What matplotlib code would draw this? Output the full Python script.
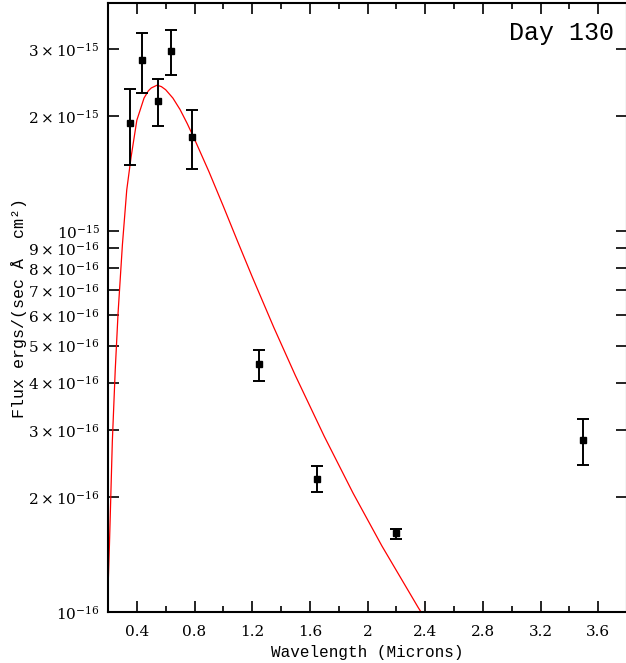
import matplotlib
matplotlib.use("Agg")
import matplotlib.pyplot as plt
from matplotlib.ticker import MultipleLocator, NullLocator
import numpy as np

# photometry (U B V R I J H K L), flux in ergs/(s A cm^2)
wavelength = [0.353, 0.438, 0.549, 0.639, 0.785, 1.25, 1.647, 2.20, 3.496]
flux = [1.92e-15, 2.80e-15, 2.19e-15, 2.96e-15, 1.76e-15, 4.47e-16, 2.23e-16, 1.61e-16, 2.83e-16]
flux_hi = [2.35e-15, 3.31e-15, 2.50e-15, 3.36e-15, 2.08e-15, 4.88e-16, 2.41e-16, 1.655e-16, 3.20e-16]
flux_lo = [1.487e-15, 2.30e-15, 1.886e-15, 2.57e-15, 1.452e-15, 4.03e-16, 2.07e-16, 1.557e-16, 2.43e-16]

# red model curve
model_wl = [0.195, 0.21, 0.23, 0.25, 0.27, 0.30, 0.33, 0.36, 0.40, 0.45, 0.48,
            0.50, 0.54, 0.57, 0.60, 0.65, 0.70, 0.75, 0.80, 0.90, 1.0, 1.1,
            1.2, 1.35, 1.5, 1.7, 1.9, 2.1, 2.35, 2.4]
model_flux = [1.0e-16, 1.5e-16, 2.8e-16, 4.3e-16, 6.1e-16, 9.2e-16, 1.28e-15,
              1.56e-15, 1.95e-15, 2.23e-15, 2.33e-15, 2.37e-15, 2.41e-15,
              2.39e-15, 2.345e-15, 2.23e-15, 2.08e-15, 1.91e-15, 1.74e-15,
              1.43e-15, 1.16e-15, 9.36e-16, 7.58e-16, 5.58e-16, 4.17e-16,
              2.89e-16, 2.05e-16, 1.49e-16, 1.03e-16, 9.6e-17]

x_ticks = [0.4, 0.8, 1.2, 1.6, 2.0, 2.4, 2.8, 3.2, 3.6]
x_labels = ["0.4", "0.8", "1.2", "1.6", "2", "2.4", "2.8", "3.2", "3.6"]
y_ticks = [1e-16, 2e-16, 3e-16, 4e-16, 5e-16, 6e-16, 7e-16, 8e-16, 9e-16,
           1e-15, 2e-15, 3e-15]
y_labels = [r"$10^{-16}$", r"$2\times10^{-16}$", r"$3\times10^{-16}$",
            r"$4\times10^{-16}$", r"$5\times10^{-16}$", r"$6\times10^{-16}$",
            r"$7\times10^{-16}$", r"$8\times10^{-16}$", r"$9\times10^{-16}$",
            r"$10^{-15}$", r"$2\times10^{-15}$", r"$3\times10^{-15}$"]

plt.rcParams["font.family"] = "DejaVu Serif"
plt.rcParams["mathtext.fontset"] = "dejavuserif"

fig = plt.figure(figsize=(6.26, 6.63), dpi=100)
ax = fig.add_axes([108 / 626, 51 / 663, 519 / 626, 609 / 663])

flux_arr = np.array(flux)
yerr = [flux_arr - np.array(flux_lo), np.array(flux_hi) - flux_arr]

ax.plot(model_wl, model_flux, color="red", lw=0.9)
ax.errorbar(wavelength, flux, yerr=yerr, fmt="s", color="black", ms=5,
            elinewidth=1.4, capsize=4, capthick=1.4)

ax.set_yscale("log")
ax.set_xlim(0.2, 3.8)
ax.set_ylim(1e-16, 3.96e-15)

ax.set_xticks(x_ticks)
ax.set_xticklabels(x_labels)
ax.xaxis.set_minor_locator(MultipleLocator(0.2))
ax.set_yticks(y_ticks)
ax.set_yticklabels(y_labels)
ax.yaxis.set_minor_locator(NullLocator())

ax.tick_params(which="both", direction="in", top=True, right=True,
               width=1.2, labelsize=11, pad=6)
ax.tick_params(axis="x", pad=9)
ax.tick_params(which="major", length=8)
ax.tick_params(which="minor", length=4)
for sp in ax.spines.values():
    sp.set_linewidth(1.5)

mono = "Liberation Mono"
ax.set_xlabel("Wavelength (Microns)", family=mono, fontsize=11.5, labelpad=5)
ax.set_ylabel("Flux ergs/(sec Å  cm²)", family=mono, fontsize=12, labelpad=1)
ax.text(0.975, 0.95, "Day 130", transform=ax.transAxes, ha="right", va="center",
        family=mono, fontsize=18)

fig.savefig("out.png", dpi=100)
